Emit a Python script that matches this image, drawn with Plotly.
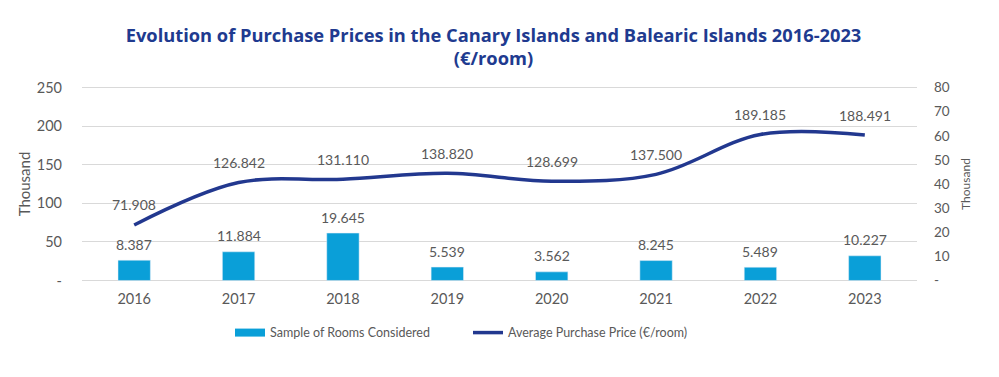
import plotly.graph_objects as go

years = ["2016", "2017", "2018", "2019", "2020", "2021", "2022", "2023"]
rooms = [8387, 11884, 19645, 5539, 3562, 8245, 5489, 10227]
avg_price = [71908, 126842, 131110, 138820, 128699, 137500, 189185, 188491]

left_ticks = [0, 50000, 100000, 150000, 200000, 250000]
left_ticktext = ["-", "50", "100", "150", "200", "250"]
right_ticks = [0, 10000, 20000, 30000, 40000, 50000, 60000, 70000, 80000]
right_ticktext = ["-", "10", "20", "30", "40", "50", "60", "70", "80"]

bar_color = "#0A9FD8"
line_color = "#22388F"
text_color = "#595959"
body_font = "Lato"

fig = go.Figure()
fig.add_trace(go.Bar(
    x=years, y=rooms, name="Sample of Rooms Considered",
    marker=dict(color=bar_color), yaxis="y2", hoverinfo="skip", showlegend=False,
))
# legend-only swatch (wide rectangle like the reference)
fig.add_trace(go.Scatter(
    x=[None], y=[None], name="Sample of Rooms Considered",
    mode="lines", line=dict(color=bar_color, width=8), yaxis="y2", hoverinfo="skip",
))
fig.add_trace(go.Scatter(
    x=years, y=avg_price, name="Average Purchase Price (€/room)",
    mode="lines", line=dict(color=line_color, width=3.5, shape="spline", smoothing=1.0),
    yaxis="y", hoverinfo="skip",
))

annotations = []
for i, v in enumerate(avg_price):
    annotations.append(dict(
        x=i, y=v, xref="x", yref="y", text=f"{v:,}".replace(",", "."),
        showarrow=False, yshift=20, font=dict(family=body_font, size=14, color=text_color),
    ))
for i, v in enumerate(rooms):
    annotations.append(dict(
        x=i, y=v, xref="x", yref="y2", text=f"{v:,}".replace(",", "."),
        showarrow=False, yshift=16, font=dict(family=body_font, size=14, color=text_color),
    ))

fig.update_layout(
    width=999, height=377,
    margin=dict(l=74, r=90, t=78, b=103),
    paper_bgcolor="white", plot_bgcolor="white",
    font=dict(family=body_font, size=14, color=text_color),
    separators=",.",
    title=dict(
        text="Evolution of Purchase Prices in the Canary Islands and Balearic Islands 2016-2023<br>(€/room)",
        x=0.486, xanchor="center", y=1 - 33.5 / 377, yanchor="middle", yref="container",
        font=dict(family="Open Sans", size=18.3, color="#203A8F", weight=700),
    ),
    bargap=0.69,
    xaxis=dict(
        type="category", range=[-0.5, len(years) - 0.5],
        showgrid=False, showline=False, ticks="", tickfont=dict(family=body_font, size=14.5, color=text_color),
        ticklabelstandoff=6,
    ),
    yaxis=dict(
        range=[-2000, 252000], tickvals=left_ticks, ticktext=left_ticktext,
        showgrid=True, gridcolor="#D9D9D9", gridwidth=1, zeroline=False,
        tickfont=dict(family=body_font, size=14.5, color=text_color),
        ticklabelstandoff=19,
        title=dict(text="Thousand", font=dict(family=body_font, size=15, color=text_color), standoff=2),
    ),
    yaxis2=dict(
        range=[-640, 80640], tickvals=right_ticks, ticktext=right_ticktext,
        overlaying="y", side="right", showgrid=False, zeroline=False,
        tickfont=dict(family=body_font, size=13.5, color=text_color),
        ticklabelstandoff=16,
        title=dict(text="Thousand", font=dict(family=body_font, size=12, color=text_color), standoff=12),
    ),
    legend=dict(
        orientation="h", x=(230 - 82) / 835, xanchor="left", y=-0.26, yanchor="middle",
        font=dict(family=body_font, size=12.5, color=text_color), traceorder="normal",
        itemwidth=30, entrywidth=193, entrywidthmode="pixels",
    ),
    annotations=annotations,
    showlegend=True,
)

fig.write_html("out.html")
